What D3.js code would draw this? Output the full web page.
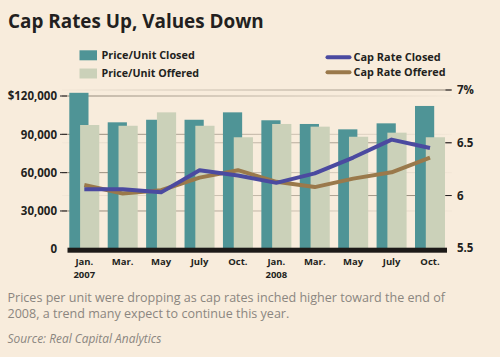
<!DOCTYPE html>
<html><head><meta charset="utf-8">
<script src="https://cdn.jsdelivr.net/npm/d3@7"></script>
<style>
html,body{margin:0;padding:0;background:#f8ecdc;}
svg{display:block;}
</style></head>
<body>
<svg id="chart" width="500" height="357"></svg>
<script>
const months = ["Jan.","Mar.","May","July","Oct.","Jan.","Mar.","May","July","Oct."];
const years = ["2007","","","","","2008","","","",""];
const priceClosed = [122500, 99400, 101400, 101400, 107200, 101000, 98100, 93900, 98600, 112200];
const priceOffered = [97300, 96700, 107200, 96700, 87700, 98100, 96000, 88100, 91300, 87700];
const rateClosed = [6.06, 6.06, 6.03, 6.24, 6.19, 6.12, 6.21, 6.36, 6.53, 6.45];
const rateOffered = [6.10, 6.02, 6.05, 6.17, 6.24, 6.13, 6.08, 6.16, 6.22, 6.36];
const leftTicks = [0, 30000, 60000, 90000, 120000];
const leftTickLabels = ["0","30,000","60,000","90,000","$120,000"];
const rightTicks = [5.5, 6, 6.5, 7];
const rightTickLabels = ["5.5","6","6.5","7%"];

const C = {bg:"#f8ecdc", teal:"#4f9496", sage:"#cbd1b9", blue:"#4b4aa0", brown:"#9a794b", ink:"#231f20", grey:"#8b8680", grid:"#8f8475"};
const FONT = "'Open Sans', 'DejaVu Sans', sans-serif";

const svg = d3.select("#chart");
svg.append("rect").attr("width",500).attr("height",357).attr("fill",C.bg);

const idx = d3.range(months.length);
const x = d3.scaleBand().domain(idx).range([69.3, 445]).paddingInner(0.219).paddingOuter(0);
const yL = d3.scaleLinear().domain([0,120000]).range([249.3, 96]);
const yR = d3.scaleLinear().domain([5.5,7]).range([248.3, 90]);
const plotL = 62, plotR = 452;

const defs = svg.append("defs");
function grad(id, a, b){
  const g = defs.append("linearGradient").attr("id",id).attr("gradientUnits","userSpaceOnUse")
    .attr("x1",plotL).attr("x2",plotR).attr("y1",0).attr("y2",0);
  g.append("stop").attr("offset","0").attr("stop-color",C.grid).attr("stop-opacity",a);
  g.append("stop").attr("offset","1").attr("stop-color",C.grid).attr("stop-opacity",b);
}
grad("gL",1,0.05); grad("gR",0.05,1);

function fitText(sel, target){
  const n = sel.node(); const w = n.getComputedTextLength();
  const fs = parseFloat(sel.attr("font-size"));
  if (w>0) sel.attr("font-size", (fs*target/w).toFixed(2));
  return sel;
}

// Title
fitText(svg.append("text").attr("x",8).attr("y",27.5).attr("font-family",FONT).attr("font-weight",700)
  .attr("font-size",19).attr("fill",C.ink).text("Cap Rates Up, Values Down"), 256);

// Legend
const legB = [{lab:"Price/Unit Closed", c:C.teal, y:50.3, w:93.3},{lab:"Price/Unit Offered", c:C.sage, y:68.5, w:97.6}];
legB.forEach(d=>{
  svg.append("rect").attr("x",79.5).attr("y",d.y).attr("width",17.5).attr("height",10).attr("fill",d.c);
  fitText(svg.append("text").attr("x",101.5).attr("y",d.y+8.8).attr("font-family",FONT).attr("font-weight",700)
    .attr("font-size",11).attr("fill",C.ink).text(d.lab), d.w);
});
const legL = [{lab:"Cap Rate Closed", c:C.blue, y:57.3, w:87.3},{lab:"Cap Rate Offered", c:C.brown, y:72.3, w:92}];
legL.forEach(d=>{
  svg.append("line").attr("x1",327.5).attr("x2",349.5).attr("y1",d.y).attr("y2",d.y)
    .attr("stroke",d.c).attr("stroke-width",4).attr("stroke-linecap","round");
  fitText(svg.append("text").attr("x",353.5).attr("y",d.y+3.8).attr("font-family",FONT).attr("font-weight",700)
    .attr("font-size",11).attr("fill",C.ink).text(d.lab), d.w);
});

// gridlines
const gridG = svg.append("g");
leftTicks.filter(v=>v>0).forEach(v=>{
  gridG.append("line").attr("x1",plotL).attr("x2",plotR).attr("y1",yL(v)).attr("y2",yL(v))
    .attr("stroke","url(#gL)").attr("stroke-width",1);
  gridG.append("line").attr("x1",60).attr("x2",67).attr("y1",yL(v)).attr("y2",yL(v)).attr("stroke",C.ink).attr("stroke-width",1);
});
rightTicks.filter(v=>v>5.5).forEach(v=>{
  gridG.append("line").attr("x1",plotL).attr("x2",plotR).attr("y1",yR(v)).attr("y2",yR(v))
    .attr("stroke","url(#gR)").attr("stroke-width",1);
  gridG.append("line").attr("x1",445.5).attr("x2",451.5).attr("y1",yR(v)).attr("y2",yR(v)).attr("stroke",C.ink).attr("stroke-width",1);
});

// bars
const bw = x.bandwidth()*0.64, off = x.bandwidth()-bw;
svg.append("g").selectAll("rect").data(idx).join("rect")
  .attr("x",i=>x(i)).attr("width",bw).attr("y",i=>yL(priceClosed[i])).attr("height",i=>yL(0)-yL(priceClosed[i]))
  .attr("fill",C.teal);
svg.append("g").selectAll("rect").data(idx).join("rect")
  .attr("x",i=>x(i)+off).attr("width",bw).attr("y",i=>yL(priceOffered[i])).attr("height",i=>yL(0)-yL(priceOffered[i]))
  .attr("fill",C.sage);

// baseline
svg.append("rect").attr("x",67.5).attr("y",247.7).attr("width",379.5).attr("height",5).attr("fill","#1d1a18");

// lines
const cx = i => x(i)+x.bandwidth()/2;
const lineR = d3.line().x((d,i)=>cx(i)).y(d=>yR(d));
svg.append("path").datum(rateOffered).attr("d",lineR).attr("fill","none").attr("stroke",C.brown)
  .attr("stroke-width",4).attr("stroke-linejoin","round");
svg.append("path").datum(rateClosed).attr("d",lineR).attr("fill","none").attr("stroke",C.blue)
  .attr("stroke-width",4).attr("stroke-linejoin","round");

// left axis labels
const yAxisL = d3.axisLeft(yL).tickValues(leftTicks).tickFormat((d,i)=>leftTickLabels[i]).tickSize(0).tickPadding(0);
const gL = svg.append("g").attr("transform","translate(57,0)").call(yAxisL);
gL.select(".domain").remove();
gL.selectAll("text").attr("font-family",FONT).attr("font-weight",700).attr("font-size",11.5).attr("fill",C.ink);

const yAxisR = d3.axisRight(yR).tickValues(rightTicks).tickFormat((d,i)=>rightTickLabels[i]).tickSize(0).tickPadding(0);
const gR = svg.append("g").attr("transform","translate(457,0)").call(yAxisR);
gR.select(".domain").remove();
gR.selectAll("text").attr("font-family",FONT).attr("font-weight",700).attr("font-size",11.5).attr("fill",C.ink);

// x labels
const xl = svg.append("g");
idx.forEach(i=>{
  xl.append("text").attr("x",cx(i)).attr("y",264.5).attr("text-anchor","middle")
    .attr("font-family",FONT).attr("font-weight",700).attr("font-size",9.5).attr("fill",C.ink).text(months[i]);
  if (years[i]) xl.append("text").attr("x",cx(i)).attr("y",277.5).attr("text-anchor","middle")
    .attr("font-family",FONT).attr("font-weight",700).attr("font-size",9.5).attr("fill",C.ink).text(years[i]);
});

// caption
const cap1 = svg.append("text").attr("x",7.5).attr("y",301.5).attr("font-family",FONT).attr("font-size",11.5).attr("fill",C.grey)
  .text("Prices per unit were dropping as cap rates inched higher toward the end of");
fitText(cap1, 437.5);
const fsCap = cap1.attr("font-size");
svg.append("text").attr("x",7.5).attr("y",318).attr("font-family",FONT).attr("font-size",fsCap).attr("fill",C.grey)
  .text("2008, a trend many expect to continue this year.");
fitText(svg.append("text").attr("x",7.5).attr("y",343).attr("font-family",FONT).attr("font-style","italic")
  .attr("font-size",10).attr("fill",C.grey).text("Source: Real Capital Analytics"), 154);
</script>
</body></html>
